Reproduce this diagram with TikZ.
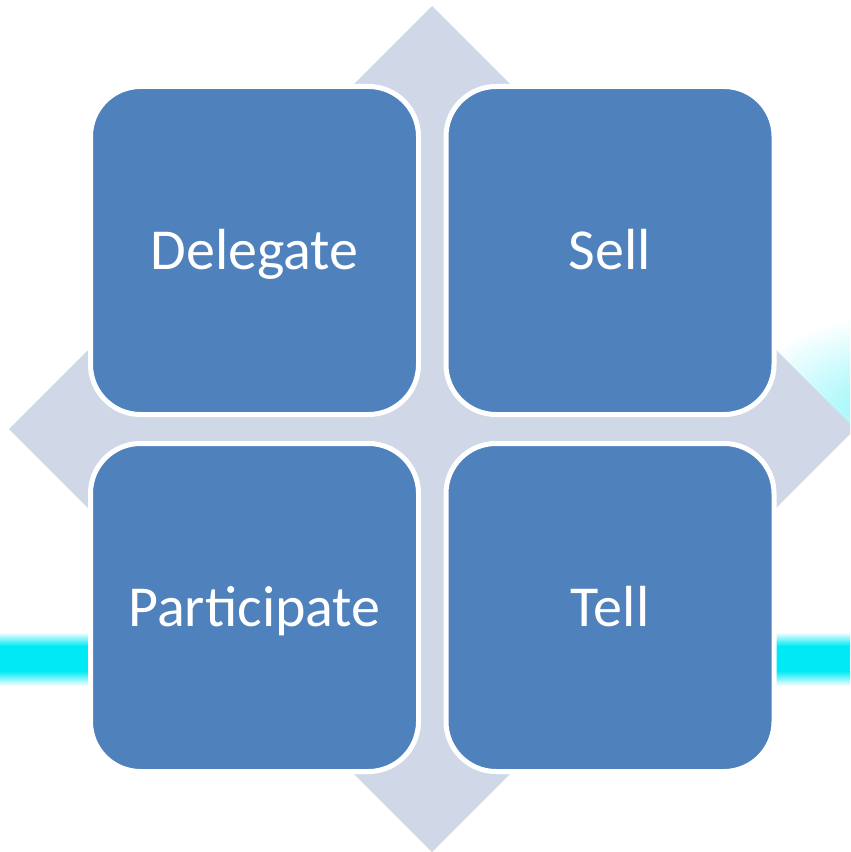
\documentclass[tikz,border=0pt]{standalone}
\usepackage{fontspec}
\setmainfont{Carlito}
\definecolor{boxblue}{RGB}{79,129,189}
\definecolor{diamondgrey}{RGB}{208,216,232}
\definecolor{glowcyan}{RGB}{0,234,245}
\tikzset{
  quad/.style={rectangle, rounded corners=1cm, fill=boxblue, draw=white, line width=0.1cm,
    minimum width=6.56cm, minimum height=6.56cm, inner sep=0pt, text=white,
    text height=0.92cm, text depth=0.18cm, font=\fontsize{33}{39}\selectfont}
}
\begin{document}
\begin{tikzpicture}
\useasboundingbox (0,0) rectangle (17,-17.04);
\clip (0,0) rectangle (17,-17.04);

% cyan band and glow
\shade[top color=white, bottom color=glowcyan] (0,-12.64) rectangle (17,-12.92);
\fill[glowcyan] (0,-12.92) rectangle (17,-13.42);
\shade[top color=glowcyan, bottom color=white] (0,-13.42) rectangle (17,-13.72);
\begin{scope}
\clip (14,-6.4) rectangle (17,-8.62);
\shade[inner color=glowcyan!45, outer color=white] (17.9,-8.2) ellipse (3.2 and 1.9);
\end{scope}

% diamond behind
\coordinate (T) at (8.64,-0.12);
\coordinate (R) at (17.10,-8.58);
\coordinate (B) at (8.64,-17.04);
\coordinate (L) at (0.18,-8.58);
\fill[diamondgrey] (T) -- (R) -- (B) -- (L) -- cycle;

\node[quad] (delegate) at (5.09,-5.01) {Delegate};
\node[quad] (sell) at (12.20,-5.01) {Sell};
\node[quad] (participate) at (5.09,-12.15) {Participate};
\node[quad] (tell) at (12.20,-12.15) {Tell};
\end{tikzpicture}
\end{document}
